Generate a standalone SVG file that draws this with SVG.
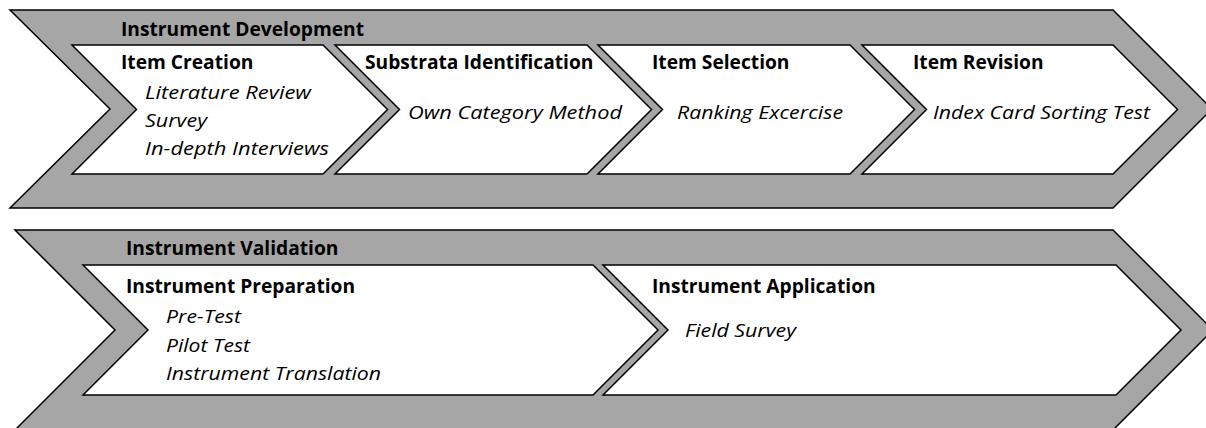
<svg xmlns="http://www.w3.org/2000/svg" width="1206" height="428" viewBox="0 0 1206 428">
<style>
.outer{fill:#a6a6a6;stroke:#000;stroke-width:1.5;stroke-linejoin:miter}
.box{fill:#fff;stroke:#000;stroke-width:1.5;stroke-linejoin:miter}
.h{font-family:"Open Sans","Liberation Sans",sans-serif;font-weight:bold;font-size:19.2px;fill:#000}
.i{font-family:"Open Sans","Liberation Sans",sans-serif;font-style:italic;font-size:18.6px;fill:#000}
</style>
<rect width="1206" height="428" fill="#fff"/>
<g id="development">
<polygon class="outer" points="10,10 1113,10 1212,109 1113,208 10,208 110,109"/>
<text class="h" x="121" y="36">Instrument Development</text>
</g>
<g id="item-creation">
<polygon class="box" points="72,45 323,45 387.5,109.5 323,174 72,174 136.5,109.5"/>
<text class="h" x="121" y="68.5">Item Creation</text>
<text class="i" x="145" y="98.5" textLength="166" lengthAdjust="spacingAndGlyphs">Literature Review</text>
<text class="i" x="145" y="126.7" textLength="62" lengthAdjust="spacingAndGlyphs">Survey</text>
<text class="i" x="145" y="154.5" textLength="184" lengthAdjust="spacingAndGlyphs">In-depth Interviews</text>
</g>
<g id="substrata-identification">
<polygon class="box" points="335,45 587,45 651.5,109.5 587,174 335,174 399.5,109.5"/>
<text class="h" x="365" y="68.5">Substrata Identification</text>
<text class="i" x="408" y="118.5" textLength="214" lengthAdjust="spacingAndGlyphs">Own Category Method</text>
</g>
<g id="item-selection">
<polygon class="box" points="598,45 850,45 914.5,109.5 850,174 598,174 662.5,109.5"/>
<text class="h" x="652" y="68.5">Item Selection</text>
<text class="i" x="677" y="118.5" textLength="166" lengthAdjust="spacingAndGlyphs">Ranking Excercise</text>
</g>
<g id="item-revision">
<polygon class="box" points="862,45 1113,45 1177.5,109.5 1113,174 862,174 926.5,109.5"/>
<text class="h" x="913" y="68.5">Item Revision</text>
<text class="i" x="933" y="118.5" textLength="217" lengthAdjust="spacingAndGlyphs">Index Card Sorting Test</text>
</g>
<g id="validation">
<polygon class="outer" points="15,230 1113,230 1213,330 1113,430 15,430 115,330"/>
<text class="h" x="126" y="255">Instrument Validation</text>
</g>
<g id="instrument-preparation">
<polygon class="box" points="83,265 593,265 658,330 593,395 83,395 148,330"/>
<text class="h" x="126" y="293">Instrument Preparation</text>
<text class="i" x="166" y="323.3" textLength="75" lengthAdjust="spacingAndGlyphs">Pre-Test</text>
<text class="i" x="166" y="351.7" textLength="84" lengthAdjust="spacingAndGlyphs">Pilot Test</text>
<text class="i" x="166" y="380" textLength="215" lengthAdjust="spacingAndGlyphs">Instrument Translation</text>
</g>
<g id="instrument-application">
<polygon class="box" points="603,265 1116,265 1181,330 1116,395 603,395 668,330"/>
<text class="h" x="652" y="293">Instrument Application</text>
<text class="i" x="685" y="336.5" textLength="111" lengthAdjust="spacingAndGlyphs">Field Survey</text>
</g>
<g id="connectors"/>
</svg>
